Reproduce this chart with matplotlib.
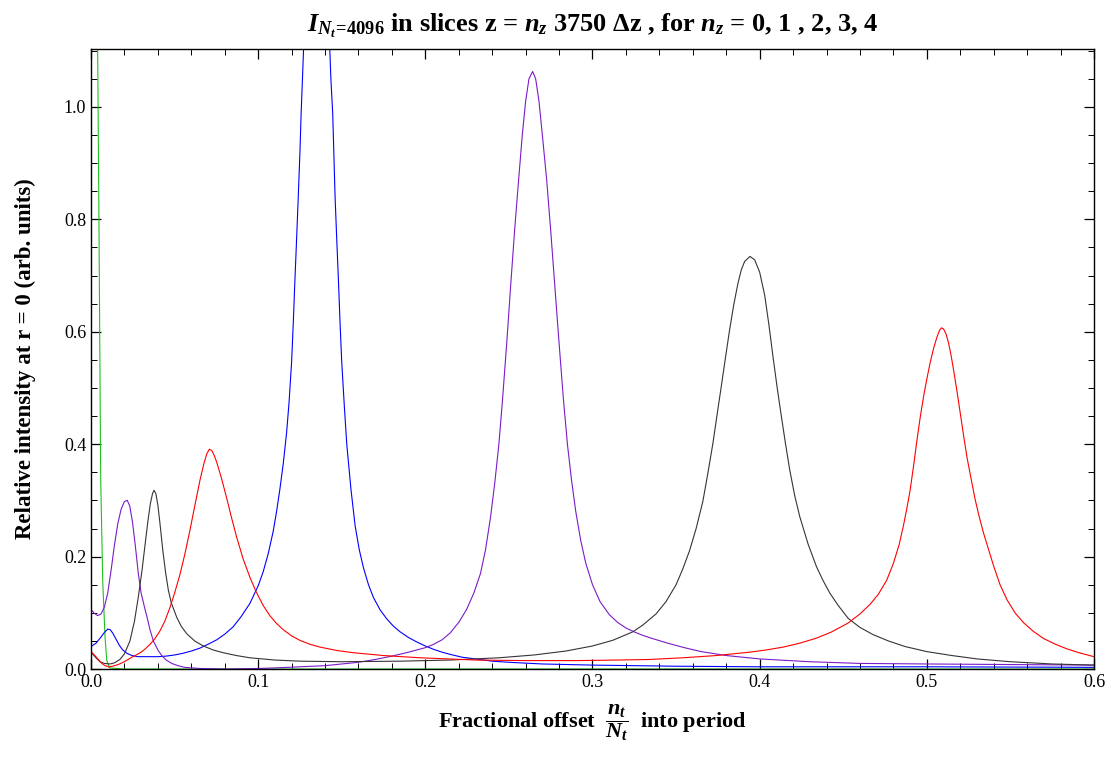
import matplotlib
matplotlib.use("Agg")
import matplotlib.pyplot as plt
from matplotlib.ticker import MultipleLocator, FormatStrFormatter

plt.rcParams["font.family"] = "Liberation Serif"
plt.rcParams["mathtext.fontset"] = "custom"
plt.rcParams["mathtext.rm"] = "Liberation Serif:bold"
plt.rcParams["mathtext.it"] = "Liberation Serif:italic:bold"
plt.rcParams["mathtext.bf"] = "Liberation Serif:bold"

# ---- data (x = n_t / N_t, y = intensity) ----
green_x = [0.0, 0.002, 0.004, 0.0048, 0.0058, 0.007, 0.0084, 0.0094, 0.011, 0.02, 0.6]
green_y = [4.0, 2.0, 1.10, 0.78, 0.34, 0.158, 0.057, 0.016, 0.002, 0.0, 0.0]

blue_x = [0.000, 0.003, 0.006, 0.008, 0.010, 0.0115, 0.013, 0.015, 0.017, 0.019,
          0.0215, 0.0245, 0.028, 0.035, 0.040, 0.045, 0.050, 0.055, 0.060, 0.065,
          0.070, 0.0752, 0.080, 0.085, 0.090, 0.0951, 0.100, 0.103, 0.106, 0.109,
          0.111, 0.113, 0.115, 0.117, 0.1185, 0.120, 0.121, 0.122, 0.123, 0.124,
          0.125, 0.1257, 0.1265, 0.1275, 0.130, 0.1325, 0.135, 0.1375, 0.140, 0.1425,
          0.1435, 0.1446, 0.1453, 0.146, 0.147, 0.148, 0.149, 0.150, 0.1515, 0.153,
          0.1555, 0.158, 0.1605, 0.163, 0.166, 0.169, 0.173, 0.177, 0.181, 0.185,
          0.190, 0.195, 0.200, 0.205, 0.210, 0.215, 0.222, 0.230, 0.240, 0.250,
          0.270, 0.300, 0.350, 0.400, 0.500, 0.600]
blue_y = [0.040, 0.046, 0.057, 0.065, 0.071, 0.070, 0.064, 0.053, 0.042, 0.034,
          0.028, 0.024, 0.022, 0.022, 0.022, 0.023, 0.025, 0.028, 0.032, 0.037,
          0.044, 0.052, 0.062, 0.075, 0.094, 0.117, 0.148, 0.173, 0.205, 0.245,
          0.280, 0.320, 0.365, 0.420, 0.475, 0.546, 0.615, 0.693, 0.765, 0.841,
          0.920, 0.988, 1.05, 1.13, 1.55, 2.0, 2.30, 2.0, 1.55, 1.13,
          1.05, 0.988, 0.915, 0.841, 0.765, 0.693, 0.615, 0.546, 0.470, 0.400,
          0.320, 0.255, 0.212, 0.180, 0.150, 0.127, 0.105, 0.089, 0.076, 0.066,
          0.056, 0.048, 0.041, 0.035, 0.030, 0.026, 0.021, 0.018, 0.014, 0.012,
          0.009, 0.007, 0.005, 0.004, 0.004, 0.003]

purple_x = [0.000, 0.002, 0.004, 0.006, 0.008, 0.010, 0.012, 0.014, 0.016, 0.018,
            0.020, 0.0217, 0.0232, 0.0248, 0.0265, 0.0283, 0.030, 0.032, 0.0333, 0.0353,
            0.0373, 0.040, 0.0423, 0.045, 0.0483, 0.052, 0.056, 0.065, 0.080, 0.100,
            0.110, 0.125, 0.140, 0.150, 0.160, 0.170, 0.180, 0.190, 0.200, 0.205,
            0.210, 0.2148, 0.220, 0.2247, 0.229, 0.233, 0.236, 0.239, 0.2415, 0.244,
            0.2462, 0.2487, 0.251, 0.2534, 0.2558, 0.258, 0.260, 0.262, 0.2642, 0.266,
            0.268, 0.270, 0.2726, 0.275, 0.2775, 0.280, 0.2826, 0.285, 0.2875, 0.290,
            0.293, 0.296, 0.300, 0.3045, 0.310, 0.315, 0.320, 0.325, 0.330, 0.335,
            0.345, 0.355, 0.365, 0.380, 0.400, 0.430, 0.460, 0.500, 0.550, 0.600]
purple_y = [0.106, 0.099, 0.095, 0.098, 0.110, 0.135, 0.175, 0.220, 0.258, 0.284,
            0.298, 0.300, 0.290, 0.262, 0.220, 0.170, 0.135, 0.110, 0.095, 0.070,
            0.050, 0.034, 0.024, 0.016, 0.010, 0.006, 0.003, 0.001, 0.000, 0.001,
            0.002, 0.004, 0.006, 0.009, 0.012, 0.017, 0.023, 0.030, 0.038, 0.044,
            0.052, 0.064, 0.083, 0.106, 0.135, 0.170, 0.212, 0.270, 0.330, 0.400,
            0.480, 0.580, 0.680, 0.780, 0.870, 0.950, 1.010, 1.050, 1.063, 1.050,
            1.010, 0.950, 0.870, 0.780, 0.680, 0.580, 0.480, 0.400, 0.335, 0.280,
            0.228, 0.188, 0.150, 0.120, 0.097, 0.083, 0.073, 0.066, 0.060, 0.055,
            0.046, 0.038, 0.031, 0.024, 0.018, 0.013, 0.010, 0.009, 0.008, 0.007]

black_x = [0.000, 0.003, 0.0054, 0.008, 0.0114, 0.014, 0.0173, 0.020, 0.0233, 0.026,
           0.0283, 0.0305, 0.0323, 0.034, 0.0355, 0.0368, 0.0377, 0.0388, 0.040, 0.0413,
           0.043, 0.0447, 0.0463, 0.048, 0.0513, 0.054, 0.0572, 0.062, 0.0672, 0.073,
           0.0791, 0.087, 0.0951, 0.110, 0.125, 0.150, 0.185, 0.215, 0.244, 0.265,
           0.284, 0.300, 0.312, 0.324, 0.330, 0.338, 0.344, 0.350, 0.354, 0.358,
           0.362, 0.366, 0.369, 0.372, 0.3745, 0.377, 0.3795, 0.382, 0.3845, 0.387,
           0.389, 0.391, 0.3942, 0.397, 0.400, 0.403, 0.4055, 0.408, 0.4105, 0.413,
           0.4155, 0.418, 0.421, 0.424, 0.429, 0.434, 0.438, 0.442, 0.447, 0.453,
           0.460, 0.468, 0.477, 0.487, 0.500, 0.515, 0.530, 0.550, 0.575, 0.600]
black_y = [0.030, 0.020, 0.013, 0.010, 0.009, 0.011, 0.017, 0.027, 0.050, 0.085,
           0.128, 0.175, 0.220, 0.262, 0.294, 0.312, 0.318, 0.312, 0.292, 0.258,
           0.210, 0.170, 0.140, 0.118, 0.092, 0.076, 0.063, 0.050, 0.041, 0.034,
           0.029, 0.024, 0.020, 0.016, 0.014, 0.013, 0.014, 0.016, 0.020, 0.025,
           0.032, 0.041, 0.051, 0.066, 0.078, 0.098, 0.120, 0.150, 0.178, 0.210,
           0.250, 0.298, 0.348, 0.401, 0.452, 0.502, 0.553, 0.603, 0.648, 0.686,
           0.710, 0.725, 0.734, 0.728, 0.706, 0.665, 0.613, 0.555, 0.500, 0.449,
           0.400, 0.354, 0.308, 0.271, 0.222, 0.182, 0.157, 0.135, 0.113, 0.090,
           0.074, 0.061, 0.050, 0.040, 0.031, 0.024, 0.018, 0.013, 0.009, 0.007]

red_x = [0.000, 0.002, 0.0044, 0.0065, 0.0084, 0.0108, 0.013, 0.0163, 0.020, 0.0233,
         0.027, 0.030, 0.0325, 0.0353, 0.038, 0.0413, 0.0443, 0.0473, 0.050, 0.0532,
         0.0562, 0.0592, 0.0622, 0.0652, 0.0675, 0.0693, 0.0708, 0.0722, 0.0737, 0.0752,
         0.078, 0.0811, 0.084, 0.0871, 0.091, 0.0951, 0.0987, 0.103, 0.107, 0.111,
         0.115, 0.120, 0.125, 0.131, 0.137, 0.147, 0.157, 0.175, 0.197, 0.230,
         0.260, 0.290, 0.315, 0.334, 0.354, 0.374, 0.394, 0.404, 0.414, 0.424,
         0.434, 0.443, 0.453, 0.460, 0.466, 0.471, 0.476, 0.480, 0.4835, 0.486,
         0.488, 0.490, 0.492, 0.494, 0.496, 0.498, 0.500, 0.502, 0.504, 0.506,
         0.5075, 0.5088, 0.510, 0.5115, 0.513, 0.5145, 0.516, 0.518, 0.520, 0.522,
         0.524, 0.5265, 0.5288, 0.531, 0.5338, 0.537, 0.540, 0.5438, 0.548, 0.553,
         0.558, 0.5637, 0.570, 0.577, 0.5837, 0.591, 0.600]
red_y = [0.031, 0.025, 0.017, 0.010, 0.006, 0.004, 0.005, 0.008, 0.013, 0.019,
         0.025, 0.030, 0.036, 0.044, 0.053, 0.068, 0.086, 0.110, 0.135, 0.168,
         0.205, 0.247, 0.292, 0.336, 0.365, 0.383, 0.391, 0.389, 0.380, 0.368,
         0.340, 0.305, 0.270, 0.235, 0.196, 0.163, 0.138, 0.113, 0.095, 0.081,
         0.070, 0.059, 0.051, 0.044, 0.039, 0.033, 0.029, 0.024, 0.020, 0.016,
         0.015, 0.015, 0.016, 0.017, 0.020, 0.024, 0.030, 0.034, 0.039, 0.046,
         0.055, 0.066, 0.082, 0.098, 0.115, 0.133, 0.158, 0.188, 0.222, 0.255,
         0.285, 0.318, 0.360, 0.405, 0.447, 0.484, 0.516, 0.545, 0.570, 0.590,
         0.602, 0.607, 0.605, 0.596, 0.580, 0.558, 0.532, 0.495, 0.455, 0.415,
         0.377, 0.338, 0.303, 0.275, 0.243, 0.212, 0.183, 0.150, 0.123, 0.099,
         0.082, 0.067, 0.054, 0.044, 0.036, 0.029, 0.022]

series = [
    (green_x, green_y, "#20c020"),
    (blue_x, blue_y, "#0000ff"),
    (purple_x, purple_y, "#7a1cc8"),
    (black_x, black_y, "#3a3238"),
    (red_x, red_y, "#ff0000"),
]

fig = plt.figure(figsize=(11.11, 7.62), dpi=100)
ax = fig.add_axes([0.0819, 0.122, 0.9028, 0.8137])

for xs, ys, c in series:
    ax.plot(xs, ys, color=c, lw=0.8)

ax.set_xlim(0, 0.6)
ax.set_ylim(0, 1.103)

ax.xaxis.set_major_locator(MultipleLocator(0.1))
ax.xaxis.set_minor_locator(MultipleLocator(0.02))
ax.yaxis.set_major_locator(MultipleLocator(0.2))
ax.yaxis.set_minor_locator(MultipleLocator(0.05))
ax.xaxis.set_major_formatter(FormatStrFormatter("%.1f"))
ax.yaxis.set_major_formatter(FormatStrFormatter("%.1f"))
ax.tick_params(which="both", direction="in", top=True, right=True, labelsize=13)
ax.tick_params(which="major", length=7, width=0.9)
ax.tick_params(which="minor", length=4, width=0.7)
for s in ax.spines.values():
    s.set_linewidth(1.0)

ax.set_title(r"$I_{N_t\!=\!4096}$ in slices z = $n_z$ 3750 Δz , for $n_z$ = 0, 1 , 2, 3, 4",
             fontsize=19, fontweight="bold", pad=12)
ax.set_xlabel(r"Fractional offset  $\dfrac{n_t}{N_t}$  into period",
              fontsize=16, fontweight="bold", labelpad=8)
ax.set_ylabel("Relative intensity at r = 0 (arb. units)",
              fontsize=16.5, fontweight="bold", labelpad=20)

fig.savefig("out.png", dpi=100)
